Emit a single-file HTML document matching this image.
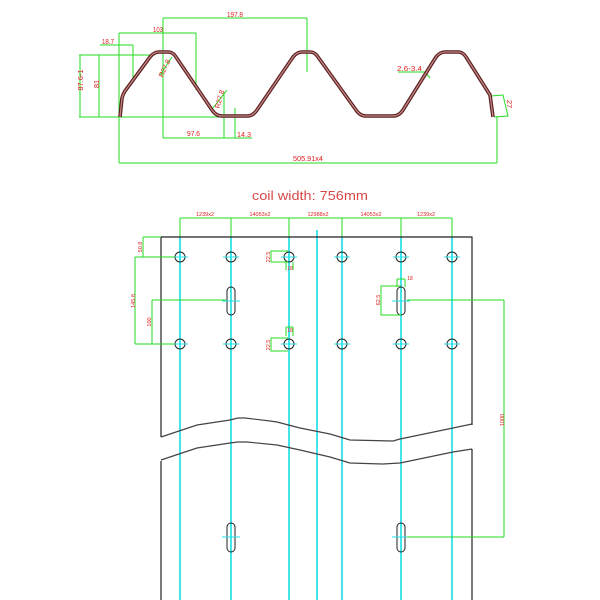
<!DOCTYPE html>
<html><head><meta charset="utf-8"><style>
html,body{margin:0;padding:0;background:#fff;}
svg{display:block;}
text{font-family:"Liberation Sans",sans-serif;}
</style></head><body>
<svg width="600" height="600" viewBox="0 0 600 600" xmlns="http://www.w3.org/2000/svg">
<rect width="600" height="600" fill="#fff"/>

<!-- ===== PROFILE DIMENSIONS (green) ===== -->
<g stroke="#22dd22" stroke-width="1" fill="none">
  <line x1="163" y1="18" x2="307" y2="18"/>
  <line x1="163" y1="18" x2="163" y2="138"/>
  <line x1="307" y1="18" x2="307" y2="72"/>
  <line x1="119" y1="33" x2="196" y2="33"/>
  <line x1="196" y1="33" x2="196" y2="90"/>
  <line x1="119" y1="33" x2="119" y2="163"/>
  <line x1="100" y1="45" x2="133" y2="45"/>
  <line x1="133" y1="45" x2="133" y2="80"/>
  <line x1="79" y1="55" x2="155" y2="55"/>
  <line x1="80" y1="55" x2="80" y2="117"/>
  <line x1="99" y1="55" x2="99" y2="117"/>
  <line x1="79" y1="117" x2="222" y2="117"/>
  <line x1="160" y1="75" x2="172" y2="57"/>
  <line x1="213" y1="108" x2="227" y2="90"/>
  <line x1="224" y1="92" x2="224" y2="138"/>
  <line x1="235" y1="108" x2="235" y2="138"/>
  <line x1="163" y1="138" x2="252" y2="138"/>
  <line x1="119" y1="163" x2="497" y2="163"/>
  <line x1="497" y1="117" x2="497" y2="163"/>
  <polyline points="398,72 425,72 430,78"/>
  <polyline points="491,96 503,95 508,116 494,117"/>
</g>

<!-- ===== PROFILE ===== -->
<path d="M120,117 L122,98 Q123,94 125,91 L150,57 Q154,52 159,52 L168,52 Q173,52 176,57 L212,110 Q216,116 222,116 L247,116 Q253,116 257,110 L293,57 Q297,52 302,52 L310,52 Q315,52 318,57 L356,110 Q360,116 366,116 L393,116 Q399,116 403,110 L436,57 Q440,52 445,52 L458,52 Q463,52 466,57 L490,95 L493,117"
  fill="none" stroke="#5a1e1e" stroke-width="3.6" stroke-linejoin="round"/>
<path d="M120,117 L122,98 Q123,94 125,91 L150,57 Q154,52 159,52 L168,52 Q173,52 176,57 L212,110 Q216,116 222,116 L247,116 Q253,116 257,110 L293,57 Q297,52 302,52 L310,52 Q315,52 318,57 L356,110 Q360,116 366,116 L393,116 Q399,116 403,110 L436,57 Q440,52 445,52 L458,52 Q463,52 466,57 L490,95 L493,117"
  fill="none" stroke="#c08585" stroke-width="1.3" stroke-linejoin="round"/>

<!-- profile labels -->
<g fill="#e02020" font-size="7.5">
  <text x="227" y="17" textLength="16" lengthAdjust="spacingAndGlyphs">197.8</text>
  <text x="153" y="32" textLength="10" lengthAdjust="spacingAndGlyphs">103</text>
  <text x="102" y="44" textLength="12" lengthAdjust="spacingAndGlyphs">18.7</text>
  <text transform="translate(80,80) rotate(-90)" text-anchor="middle" dy="3">87.6-1</text>
  <text transform="translate(96,84) rotate(-90)" text-anchor="middle" dy="3">81</text>
  <text transform="translate(164,68) rotate(-65)" text-anchor="middle" dy="3" font-size="7">R27.8</text>
  <text transform="translate(219,99) rotate(-75)" text-anchor="middle" dy="3" font-size="7">R27.8</text>
  <text x="187" y="136" textLength="13" lengthAdjust="spacingAndGlyphs">97.6</text>
  <text x="237" y="137" textLength="14" lengthAdjust="spacingAndGlyphs">14.3</text>
  <text x="293" y="161" textLength="30" lengthAdjust="spacingAndGlyphs">505.91x4</text>
  <text x="397" y="71" textLength="25" lengthAdjust="spacingAndGlyphs">2.6-3.4</text>
  <text transform="translate(510,104) rotate(90)" text-anchor="middle" dy="3">27</text>
</g>

<!-- ===== TITLE ===== -->
<text x="252" y="200" font-size="13" fill="#d84848" textLength="116" lengthAdjust="spacingAndGlyphs">coil width: 756mm</text>

<!-- ===== TOP DIMENSION ===== -->
<g stroke="#22dd22" stroke-width="1" fill="none">
  <line x1="180" y1="218" x2="452" y2="218"/>
  <line x1="180" y1="218" x2="180" y2="237"/>
  <line x1="231" y1="218" x2="231" y2="237"/>
  <line x1="289" y1="218" x2="289" y2="237"/>
  <line x1="342" y1="218" x2="342" y2="237"/>
  <line x1="401" y1="218" x2="401" y2="237"/>
  <line x1="452" y1="218" x2="452" y2="237"/>
</g>
<g fill="#e02020" font-size="5.5" text-anchor="middle">
  <text x="205" y="216">1239x2</text>
  <text x="260" y="216">14053x2</text>
  <text x="318" y="216">12988x2</text>
  <text x="371" y="216">14053x2</text>
  <text x="426" y="216">1239x2</text>
</g>

<!-- ===== CYAN CENTER LINES ===== -->
<g stroke="#22e0e6" stroke-width="1.7">
  <line x1="180" y1="237" x2="180" y2="600"/>
  <line x1="231" y1="237" x2="231" y2="600"/>
  <line x1="289" y1="237" x2="289" y2="600"/>
  <line x1="317" y1="230" x2="317" y2="600"/>
  <line x1="342" y1="237" x2="342" y2="600"/>
  <line x1="401" y1="237" x2="401" y2="600"/>
  <line x1="452" y1="237" x2="452" y2="600"/>
</g>

<!-- ===== SHEET OUTLINE ===== -->
<g stroke="#222" stroke-width="1.2" fill="none" stroke-linejoin="round">
  <path d="M161,437 L161,237 L472,237 L472,425"/>
  <path d="M161,437 L197,425 L230,420 L238,418 L245,418 L270,421 L277,422 L300,428 L330,434 L350,440 L393,441 L400,439 L453,428 L472,424" stroke="#444"/>
  <path d="M161,460 L197,448 L230,443 L238,442 L247,442 L277,445 L300,450 L330,457 L350,463 L383,464 L400,463 L453,452 L472,449" stroke="#444"/>
  <path d="M161,600 L161,461"/>
  <path d="M472,449 L472,600"/>
</g>

<!-- ===== HOLES ===== -->
<g stroke="#222" stroke-width="1" fill="none">
  <circle cx="180" cy="257" r="5"/><circle cx="231" cy="257" r="5"/><circle cx="289" cy="257" r="5"/>
  <circle cx="342" cy="257" r="5"/><circle cx="401" cy="257" r="5"/><circle cx="452" cy="257" r="5"/>
  <circle cx="180" cy="344" r="5"/><circle cx="231" cy="344" r="5"/><circle cx="289" cy="344" r="5"/>
  <circle cx="342" cy="344" r="5"/><circle cx="401" cy="344" r="5"/><circle cx="452" cy="344" r="5"/>
  <rect x="227" y="287" width="8" height="28" rx="4"/>
  <rect x="397" y="287" width="8" height="28" rx="4"/>
  <rect x="227" y="523" width="8" height="29" rx="4"/>
  <rect x="397" y="523" width="8" height="29" rx="4"/>
</g>
<g stroke="#22e0e6" stroke-width="1">
  <line x1="172" y1="257" x2="188" y2="257"/><line x1="223" y1="257" x2="239" y2="257"/><line x1="281" y1="257" x2="297" y2="257"/>
  <line x1="334" y1="257" x2="350" y2="257"/><line x1="393" y1="257" x2="409" y2="257"/><line x1="444" y1="257" x2="460" y2="257"/>
  <line x1="172" y1="344" x2="188" y2="344"/><line x1="223" y1="344" x2="239" y2="344"/><line x1="281" y1="344" x2="297" y2="344"/>
  <line x1="334" y1="344" x2="350" y2="344"/><line x1="393" y1="344" x2="409" y2="344"/><line x1="444" y1="344" x2="460" y2="344"/>
  <line x1="222" y1="301" x2="240" y2="301"/><line x1="392" y1="301" x2="410" y2="301"/>
  <line x1="222" y1="537" x2="240" y2="537"/><line x1="392" y1="537" x2="410" y2="537"/>
</g>

<!-- ===== SHEET DIMENSIONS (green) ===== -->
<g stroke="#22dd22" stroke-width="1" fill="none">
  <line x1="143" y1="237" x2="161" y2="237"/>
  <line x1="143" y1="237" x2="143" y2="257"/>
  <line x1="135" y1="257" x2="175" y2="257"/>
  <line x1="135" y1="257" x2="135" y2="344"/>
  <line x1="135" y1="344" x2="175" y2="344"/>
  <line x1="152" y1="300" x2="152" y2="344"/>
  <line x1="152" y1="300" x2="226" y2="300"/>
  <polyline points="288,251 271,251 271,262 288,262"/>
  <line x1="286" y1="262" x2="286" y2="270"/>
  <line x1="293" y1="262" x2="293" y2="270"/>
  <line x1="286" y1="327" x2="293" y2="327"/>
  <line x1="286" y1="327" x2="286" y2="336"/>
  <line x1="293" y1="327" x2="293" y2="336"/>
  <polyline points="288,338 271,338 271,351 288,351"/>
  <polyline points="401,286 381,286 381,315 401,315"/>
  <line x1="397" y1="279" x2="405" y2="279"/>
  <line x1="397" y1="279" x2="397" y2="287"/>
  <line x1="405" y1="279" x2="405" y2="287"/>
  <line x1="407" y1="300" x2="504" y2="300"/>
  <line x1="504" y1="300" x2="504" y2="537"/>
  <line x1="407" y1="537" x2="504" y2="537"/>
</g>
<g fill="#e02020" font-size="5.5" text-anchor="middle">
  <text transform="translate(140,247) rotate(-90)" dy="2">50.8</text>
  <text transform="translate(133,301) rotate(-90)" dy="2">145.8</text>
  <text transform="translate(149,322) rotate(-90)" dy="2">100</text>
  <text transform="translate(268,257) rotate(-90)" dy="2">22.5</text>
  <text x="290" y="270" font-size="5">18</text>
  <text x="290" y="332" font-size="5">18</text>
  <text transform="translate(268,345) rotate(-90)" dy="2">22.5</text>
  <text transform="translate(378,300) rotate(-90)" dy="2">62.5</text>
  <text x="410" y="280" font-size="5">18</text>
  <text transform="translate(502,420) rotate(-90)" dy="2">1000</text>
</g>
</svg>
</body></html>
